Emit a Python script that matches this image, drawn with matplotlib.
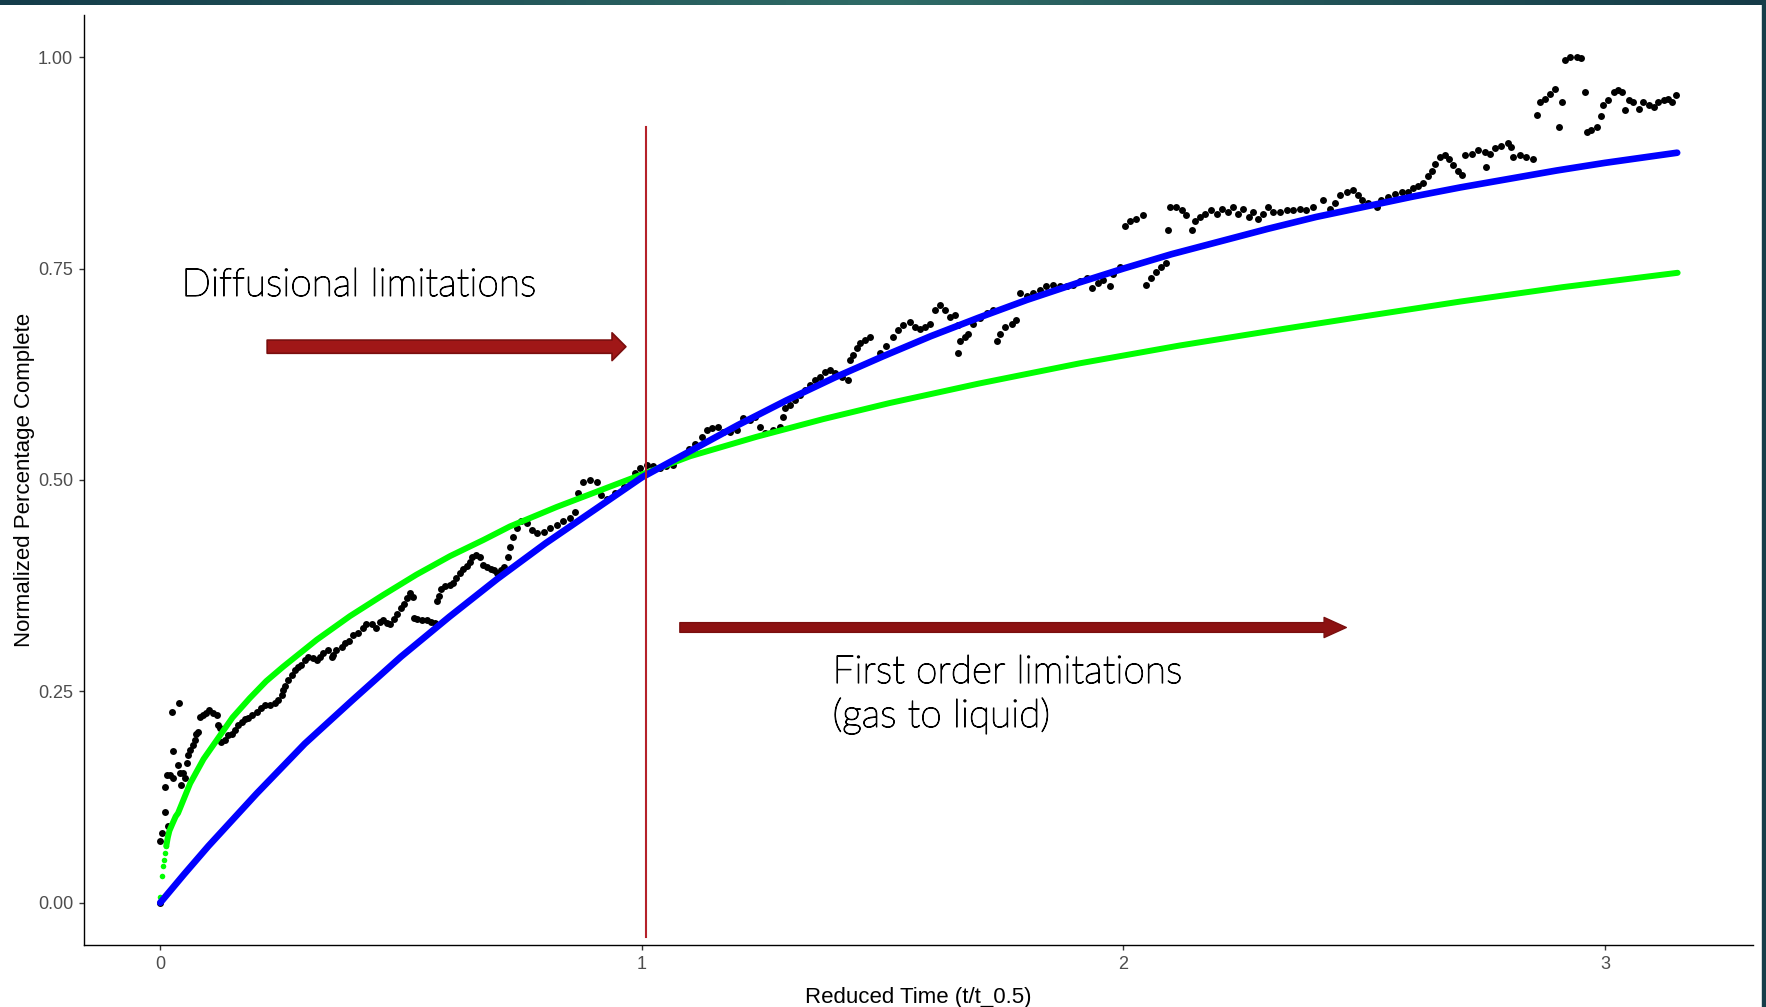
import numpy as np
import matplotlib.pyplot as plt
import matplotlib.patheffects as pe
from matplotlib.patches import Rectangle
from matplotlib.colors import LinearSegmentedColormap

# measured data: reduced time (t/t_0.5) vs normalized fraction complete
obs_t = [0.000, 0.000, 0.003, 0.010, 0.017, 0.010, 0.013, 0.020, 0.027, 0.027,
         0.024, 0.039, 0.037, 0.041, 0.048, 0.051, 0.044, 0.055,
         0.058, 0.062, 0.067, 0.072, 0.075, 0.079, 0.082, 0.088, 0.095, 0.102,
         0.110, 0.117, 0.120, 0.124, 0.127, 0.134, 0.141, 0.148, 0.155, 0.162,
         0.169, 0.176, 0.183, 0.190, 0.200, 0.210, 0.217, 0.228, 0.238, 0.245,
         0.252, 0.255, 0.259, 0.266, 0.273, 0.280, 0.287, 0.293, 0.300, 0.307,
         0.318, 0.325, 0.332, 0.338, 0.349, 0.356, 0.359, 0.366, 0.377, 0.383,
         0.392, 0.401, 0.411, 0.421, 0.428, 0.439, 0.448, 0.456, 0.463, 0.471,
         0.478, 0.485, 0.492, 0.499, 0.506, 0.513, 0.518, 0.524, 0.527, 0.534,
         0.543, 0.553, 0.563, 0.570, 0.574, 0.579, 0.584, 0.591, 0.601, 0.608,
         0.615, 0.622, 0.629, 0.636, 0.643, 0.648, 0.655, 0.664, 0.671, 0.679,
         0.686, 0.693, 0.700, 0.707, 0.714, 0.722, 0.726,
         0.733, 0.740, 0.750, 0.761, 0.771, 0.782, 0.796, 0.810, 0.823, 0.837,
         0.851, 0.862, 0.868, 0.878, 0.892, 0.906, 0.916, 0.927, 0.944, 0.962,
         0.976, 0.986, 0.997, 1.010, 1.024, 1.038, 1.051, 1.065, 1.083, 1.097,
         1.110, 1.124, 1.135, 1.145, 1.159, 1.169, 1.183, 1.197, 1.211, 1.225,
         1.235, 1.246, 1.256, 1.273, 1.287, 1.294, 1.297, 1.308, 1.318, 1.328,
         1.339, 1.349, 1.360, 1.370, 1.380, 1.391, 1.401, 1.415, 1.429, 1.432,
         1.439, 1.446, 1.453, 1.463, 1.474,
         1.494, 1.508, 1.522, 1.532, 1.543, 1.557, 1.567, 1.578, 1.588, 1.598,
         1.609, 1.619, 1.630, 1.640, 1.650, 1.657, 1.661, 1.657, 1.671, 1.678,
         1.688, 1.702, 1.716, 1.730, 1.737, 1.744, 1.754, 1.768, 1.778, 1.785,
         1.799, 1.813, 1.827, 1.840, 1.854, 1.868, 1.882, 1.896, 1.910, 1.924,
         1.934, 1.948, 1.958, 1.972, 1.979, 1.993, 2.003, 2.013, 2.027, 2.041,
         2.048, 2.058, 2.068, 2.079, 2.089, 2.093, 2.096, 2.110, 2.121, 2.131,
         2.142, 2.148, 2.159, 2.169, 2.183, 2.194, 2.204, 2.218, 2.228, 2.239,
         2.249, 2.260, 2.270, 2.280, 2.291, 2.301, 2.311, 2.325, 2.339, 2.353,
         2.366, 2.380, 2.394, 2.415,
         2.429, 2.439, 2.450, 2.464, 2.477, 2.488, 2.495, 2.509, 2.526, 2.536,
         2.550, 2.564, 2.578, 2.591, 2.602, 2.612, 2.622, 2.633, 2.640, 2.647,
         2.657, 2.667, 2.676, 2.685, 2.695, 2.704, 2.709, 2.723, 2.737, 2.750,
         2.754, 2.761, 2.771, 2.785, 2.799, 2.806, 2.810, 2.823, 2.837, 2.851,
         2.858, 2.865, 2.875, 2.886, 2.896, 2.910, 2.905, 2.917, 2.927, 2.941,
         2.951, 2.958, 2.962, 2.972, 2.983, 2.991, 2.997, 3.007, 3.018, 3.028,
         3.035, 3.042, 3.049, 3.059, 3.070, 3.080, 3.091, 3.101, 3.111, 3.122,
         3.132, 3.139, 3.147]
obs_y = [0.000, 0.073, 0.083, 0.107, 0.091, 0.137, 0.151, 0.151, 0.147, 0.179,
         0.226, 0.236, 0.163, 0.153, 0.153, 0.147, 0.139, 0.165,
         0.175, 0.181, 0.187, 0.192, 0.200, 0.202, 0.220, 0.222, 0.224, 0.228,
         0.224, 0.222, 0.210, 0.207, 0.190, 0.192, 0.198, 0.200, 0.204, 0.210,
         0.214, 0.217, 0.218, 0.222, 0.226, 0.230, 0.234, 0.234, 0.236, 0.240,
         0.246, 0.252, 0.256, 0.263, 0.269, 0.275, 0.279, 0.281, 0.287, 0.291,
         0.289, 0.287, 0.291, 0.295, 0.299, 0.291, 0.293, 0.299, 0.303, 0.307,
         0.309, 0.317, 0.319, 0.325, 0.330, 0.330, 0.325, 0.332, 0.334, 0.331,
         0.330, 0.336, 0.342, 0.348, 0.353, 0.360, 0.366, 0.362, 0.337, 0.336,
         0.334, 0.334, 0.332, 0.331, 0.357, 0.363, 0.371, 0.375, 0.376, 0.378,
         0.384, 0.390, 0.395, 0.398, 0.403, 0.409, 0.411, 0.409, 0.399, 0.397,
         0.395, 0.393, 0.390, 0.393, 0.397, 0.409, 0.421,
         0.433, 0.443, 0.451, 0.449, 0.441, 0.437, 0.439, 0.443, 0.447, 0.451,
         0.455, 0.462, 0.484, 0.498, 0.500, 0.498, 0.482, 0.478, 0.484, 0.492,
         0.500, 0.508, 0.514, 0.518, 0.516, 0.514, 0.516, 0.518, 0.528, 0.537,
         0.543, 0.551, 0.559, 0.561, 0.563, 0.557, 0.557, 0.559, 0.573, 0.571,
         0.575, 0.563, 0.555, 0.559, 0.563, 0.575, 0.585, 0.589, 0.594, 0.600,
         0.606, 0.612, 0.618, 0.622, 0.628, 0.630, 0.626, 0.622, 0.618, 0.642,
         0.648, 0.656, 0.662, 0.666, 0.669,
         0.650, 0.658, 0.669, 0.677, 0.683, 0.687, 0.681, 0.679, 0.681, 0.685,
         0.701, 0.707, 0.701, 0.693, 0.695, 0.683, 0.664, 0.650, 0.669, 0.673,
         0.685, 0.691, 0.697, 0.701, 0.664, 0.673, 0.681, 0.685, 0.689, 0.721,
         0.717, 0.721, 0.725, 0.729, 0.731, 0.729, 0.729, 0.731, 0.735, 0.739,
         0.727, 0.733, 0.737, 0.729, 0.743, 0.752, 0.800, 0.806, 0.809, 0.813,
         0.731, 0.739, 0.746, 0.752, 0.756, 0.796, 0.823, 0.823, 0.819, 0.813,
         0.796, 0.806, 0.811, 0.815, 0.819, 0.815, 0.821, 0.817, 0.823, 0.815,
         0.821, 0.811, 0.817, 0.809, 0.815, 0.823, 0.817, 0.817, 0.819, 0.819,
         0.821, 0.819, 0.823, 0.831,
         0.821, 0.827, 0.837, 0.841, 0.843, 0.837, 0.831, 0.827, 0.823, 0.831,
         0.835, 0.838, 0.840, 0.841, 0.845, 0.848, 0.851, 0.859, 0.865, 0.874,
         0.882, 0.884, 0.880, 0.872, 0.865, 0.861, 0.884, 0.886, 0.890, 0.888,
         0.870, 0.886, 0.892, 0.895, 0.898, 0.894, 0.882, 0.884, 0.882, 0.880,
         0.932, 0.947, 0.951, 0.957, 0.962, 0.947, 0.917, 0.997, 1.000, 1.000,
         0.999, 0.959, 0.912, 0.914, 0.917, 0.930, 0.943, 0.949, 0.959, 0.961,
         0.959, 0.938, 0.949, 0.947, 0.939, 0.947, 0.943, 0.941, 0.947, 0.949,
         0.951, 0.947, 0.955]

# first order model (blue)
first_t = [0.0, 0.05, 0.1, 0.15, 0.2, 0.3, 0.4, 0.5, 0.6, 0.7, 0.8, 0.9, 1.0,
           1.1, 1.2, 1.3, 1.4, 1.5, 1.6, 1.7, 1.8, 1.9, 2.0, 2.1, 2.2, 2.3,
           2.4, 2.5, 2.6, 2.7, 2.8, 2.9, 3.0, 3.1, 3.15]
first_y = [0.000, 0.034, 0.067, 0.098, 0.129, 0.188, 0.240, 0.291, 0.338,
           0.383, 0.425, 0.464, 0.503, 0.534, 0.565, 0.594, 0.621, 0.646,
           0.670, 0.692, 0.713, 0.732, 0.750, 0.767, 0.782, 0.797, 0.811,
           0.823, 0.835, 0.846, 0.856, 0.866, 0.875, 0.883, 0.887]

# diffusion model (green)
diff_t = [0.000, 0.0035, 0.006, 0.008, 0.0105, 0.0125, 0.0156, 0.019, 0.025,
          0.032, 0.037, 0.062, 0.090, 0.117, 0.150, 0.186, 0.220, 0.255,
          0.325, 0.394, 0.463, 0.532, 0.602, 0.671, 0.726, 0.823, 0.961,
          1.100, 1.238, 1.377, 1.515, 1.700, 1.910, 2.117, 2.325, 2.500,
          2.700, 2.912, 3.151]
diff_y = [0.007, 0.032, 0.043, 0.051, 0.059, 0.067, 0.077, 0.085, 0.093,
          0.102, 0.106, 0.141, 0.170, 0.192, 0.219, 0.242, 0.262, 0.279,
          0.311, 0.339, 0.364, 0.388, 0.410, 0.429, 0.445, 0.468, 0.498,
          0.528, 0.551, 0.572, 0.591, 0.614, 0.638, 0.659, 0.678, 0.6935,
          0.711, 0.728, 0.745]

x_ticks = [0, 1, 2, 3]
y_ticks = [0.00, 0.25, 0.50, 0.75, 1.00]

split_t = 1.008
split_y = (-0.041, 0.918)

W, H = 1766, 1007
fig = plt.figure(figsize=(W / 100, H / 100), dpi=100)
fig.patch.set_facecolor('white')

ax = fig.add_axes([84.4 / W, 1 - 945 / H, (1753 - 84.4) / W, (945 - 14.9) / H])
ax.set_xlim(-0.1575, 3.3075)
ax.set_ylim(-0.05, 1.05)
for s in ['top', 'right']:
    ax.spines[s].set_visible(False)
for s in ['left', 'bottom']:
    ax.spines[s].set_linewidth(1.0)
    ax.spines[s].set_color('black')

ax.scatter(obs_t, obs_y, s=25, color='black', linewidths=0, zorder=2)
ax.plot(diff_t[5:], diff_y[5:], color='#00ff00', lw=4.3, solid_capstyle='round', zorder=3)
ax.scatter(diff_t[:6], diff_y[:6], s=16, color='#00ff00', linewidths=0, zorder=3)
ax.plot(first_t, first_y, color='#0000ff', lw=4.8, solid_capstyle='round', zorder=4)

ax.plot([split_t, split_t], split_y, color='#b5212a', lw=1.5, zorder=5)

ax.set_xticks(x_ticks)
ax.set_xticklabels([str(v) for v in x_ticks])
ax.set_yticks(y_ticks)
ax.set_yticklabels(['%.2f' % v for v in y_ticks])
ax.tick_params(length=3.6, width=1.0, color='#333333', labelcolor='#4d4d4d',
               labelsize=13, pad=4.5)
for lab in ax.get_xticklabels() + ax.get_yticklabels():
    lab.set_family('Liberation Sans')

ax.set_xlabel('Reduced Time (t/t_0.5)', fontsize=16, family='Liberation Sans',
              color='black', labelpad=10)
ax.set_ylabel('Normalized Percentage Complete', fontsize=16, family='Liberation Sans',
              color='black', labelpad=2)

# annotations
arrow_kw = dict(arrowstyle='simple,head_length=10,head_width=20,tail_width=9.5',
                fc='#a01717', ec='#7a0e0e', lw=1.2, mutation_scale=1,
                shrinkA=0, shrinkB=0)
ax.annotate('', xy=(0.967, 0.6576), xytext=(0.222, 0.6576), arrowprops=arrow_kw, zorder=6)
arrow_kw2 = dict(arrowstyle='simple,head_length=16,head_width=14.5,tail_width=7',
                 fc='#8c1111', ec='#7a0e0e', lw=1.0, mutation_scale=1,
                 shrinkA=0, shrinkB=0)
ax.annotate('', xy=(2.463, 0.3255), xytext=(1.079, 0.3255), arrowprops=arrow_kw2, zorder=6)

note_kw = dict(fontsize=28, family='Lato', fontweight='light', color='black',
               ha='left', va='baseline',
               path_effects=[pe.withStroke(linewidth=0.8, foreground='black')])
ax.text(0.044, 0.7176, 'Diffusional limitations', **note_kw)
ax.text(1.396, 0.2598, 'First order limitations', **note_kw)
ax.text(1.396, 0.2078, '(gas to liquid)', **note_kw)

# slide frame: teal band on top and at the right edge
band = fig.add_axes([0, 1 - 5 / H, 1, 5 / H])
cmap = LinearSegmentedColormap.from_list('teal', ['#143c4a', '#2f6b66', '#153b48'])
band.imshow(np.linspace(0, 1, 256)[None, :], aspect='auto', cmap=cmap)
band.axis('off')
fig.patches.append(Rectangle((1762 / W, 0), 4 / W, 1, transform=fig.transFigure,
                             color='#173d49', zorder=10))

fig.savefig('out.png', dpi=100, facecolor='white')
